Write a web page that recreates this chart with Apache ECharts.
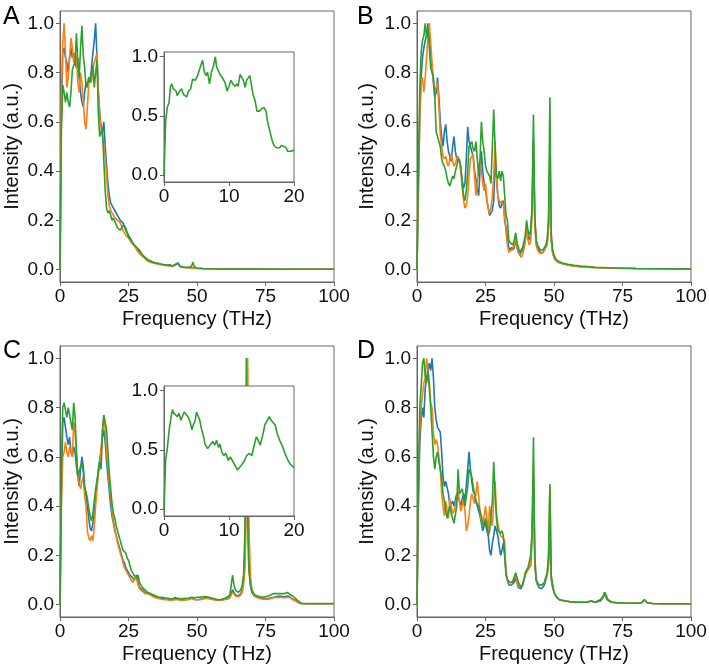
<!DOCTYPE html>
<html>
<head>
<meta charset="utf-8">
<script src="https://cdn.jsdelivr.net/npm/echarts@6/dist/echarts.min.js"></script>
<style>html,body{margin:0;padding:0;background:#fff}#chart{width:709px;height:668px}</style>
</head>
<body>
<div id="chart"></div>
<script>
// ---------------- DATA ----------------
const seriesNames = ['Blue', 'Orange', 'Green'];
const panelLabels = ['A', 'B', 'C', 'D'];
const xTicks = [0, 25, 50, 75, 100];
const yTicks = [0, 0.2, 0.4, 0.6, 0.8, 1.0];
const insetYTicks = [0, 0.5, 1.0];

// Panel A
const freqA = [0,0.5,1,1.5,2,2.5,3,3.5,4,4.5,
  5,5.5,6,6.5,7,7.5,8,8.5,9,9.5,
  10,10.5,11,11.5,12,12.5,13,13.5,14,14.5,
  15,15.5,16,16.5,17,17.5,18,18.5,19,19.5,
  20,21,22,23,24,25,26,27,28,29,
  30,31,32,33,34,35,36,37,38,39,
  40,41,42,43,44,45,46,47,48,48.5,
  49,50,52,55,60,70,80,90,100];
const blueA = [0,0.6,0.88,0.9,0.86,0.84,0.80,0.86,0.9,0.86,
  0.88,0.84,0.82,0.86,0.78,0.72,0.68,0.66,0.72,0.76,
  0.74,0.78,0.76,0.82,0.88,0.93,1.0,0.86,0.72,0.64,
  0.58,0.56,0.60,0.50,0.42,0.35,0.30,0.27,0.26,0.25,
  0.24,0.22,0.20,0.19,0.16,0.14,0.12,0.10,0.09,0.07,
  0.06,0.05,0.04,0.035,0.03,0.027,0.025,0.022,0.02,0.018,
  0.02,0.015,0.02,0.028,0.012,0.01,0.009,0.008,0.008,0.01,
  0.007,0.006,0.005,0.004,0.003,0.003,0.002,0.002,0.002];
const orangeA = [0,0.7,0.92,1.0,0.88,0.74,0.78,0.86,0.94,0.90,
  0.84,0.88,0.86,0.76,0.72,0.80,0.76,0.68,0.60,0.57,
  0.66,0.76,0.78,0.76,0.82,0.84,0.86,0.88,0.72,0.62,
  0.57,0.54,0.50,0.46,0.38,0.30,0.26,0.24,0.23,0.22,
  0.22,0.20,0.19,0.16,0.14,0.13,0.11,0.10,0.08,0.065,
  0.055,0.045,0.035,0.03,0.027,0.024,0.022,0.02,0.018,0.016,
  0.015,0.013,0.018,0.025,0.01,0.009,0.008,0.008,0.007,0.01,
  0.006,0.005,0.004,0.004,0.003,0.003,0.002,0.002,0.002];
const greenA = [0,0.57,0.75,0.72,0.68,0.72,0.68,0.66,0.72,0.81,
  0.83,0.84,0.96,0.84,0.78,0.90,0.99,0.87,0.82,0.74,
  0.75,0.78,0.76,0.80,0.83,0.74,0.80,0.85,0.63,0.54,
  0.56,0.57,0.44,0.32,0.25,0.23,0.24,0.24,0.20,0.21,
  0.21,0.17,0.16,0.18,0.17,0.13,0.12,0.10,0.09,0.08,
  0.06,0.05,0.04,0.035,0.03,0.027,0.025,0.022,0.02,0.018,
  0.018,0.015,0.02,0.025,0.012,0.01,0.01,0.01,0.014,0.03,
  0.012,0.007,0.005,0.004,0.003,0.003,0.002,0.002,0.002];

// Inset of panel A (green, 0-20 THz)
const insetFreqA = [0,0.26,0.5,0.77,1.0,1.2,1.4,1.85,2.05,2.4,
  2.7,3.0,3.5,3.7,4.1,4.4,4.8,5.1,5.4,5.8,
  5.95,6.2,6.5,6.7,7.0,7.3,7.6,7.9,8.1,8.4,
  8.6,9.0,9.4,9.7,10.0,10.3,10.6,10.9,11.2,11.4,
  11.7,11.9,12.2,12.5,12.7,13.0,13.2,13.5,13.7,14.0,
  14.3,14.7,15.0,15.4,15.7,15.9,16.2,16.6,16.9,17.3,
  17.8,18.1,18.4,18.8,19.0,19.3,19.6,20.0];
const insetGreenA = [0,0.46,0.57,0.61,0.75,0.77,0.73,0.71,0.67,0.71,
  0.73,0.68,0.66,0.70,0.73,0.81,0.80,0.83,0.82,0.95,
  0.97,0.87,0.84,0.87,0.77,0.87,0.92,1.0,0.91,0.88,
  0.85,0.82,0.78,0.71,0.75,0.80,0.77,0.75,0.77,0.75,
  0.85,0.84,0.80,0.74,0.80,0.80,0.84,0.84,0.68,0.63,
  0.54,0.54,0.56,0.57,0.54,0.46,0.39,0.30,0.25,0.23,
  0.23,0.25,0.24,0.23,0.20,0.21,0.20,0.21];

// Panel B
const freqB = [0,0.5,1,1.5,2,2.5,3,3.5,4,4.5,
  5,5.5,6,6.5,7,7.5,8,8.5,9,9.5,
  10,10.5,11,11.5,12,12.5,13,13.5,14,14.5,
  15,15.5,16,16.5,17,17.5,18,18.5,19,19.5,
  20,20.5,21,21.5,22,22.5,23,23.5,24,24.5,
  25,25.5,26,26.5,27,27.5,28,28.5,29,29.5,
  30,30.5,31,31.5,32,32.5,33,33.5,34,34.5,
  35,35.5,36,36.5,37,37.5,38,38.5,39,39.5,
  40,40.5,41,41.5,42,42.5,43,43.5,44,44.5,
  45,45.5,46,46.5,47,47.5,48,48.5,49,49.5,
  50,50.5,51,51.5,52,
  53,55,57.5,60,65,70,75,80,90,100];
const blueB = [0,0.35,0.62,0.78,0.86,0.90,0.93,0.95,1.0,0.96,
  0.88,0.82,0.76,0.70,0.72,0.78,0.70,0.60,0.54,0.50,
  0.56,0.59,0.52,0.48,0.46,0.44,0.50,0.54,0.48,0.45,
  0.44,0.45,0.40,0.36,0.33,0.35,0.45,0.58,0.52,0.50,
  0.48,0.46,0.40,0.37,0.33,0.30,0.40,0.48,0.40,0.35,
  0.33,0.28,0.25,0.22,0.22,0.24,0.28,0.45,0.38,0.30,
  0.26,0.25,0.27,0.28,0.20,0.17,0.13,0.09,0.08,0.09,
  0.08,0.09,0.12,0.09,0.07,0.06,0.06,0.08,0.10,0.12,
  0.17,0.14,0.12,0.14,0.25,0.52,0.20,0.11,0.09,0.08,
  0.07,0.07,0.07,0.08,0.09,0.11,0.18,0.45,0.12,0.07,
  0.05,0.04,0.035,0.03,0.028,
  0.025,0.02,0.015,0.012,0.009,0.007,0.006,0.005,0.004,0.003];
const orangeB = [0,0.3,0.6,0.76,0.78,0.72,0.78,0.86,0.94,1.0,
  0.92,0.84,0.76,0.72,0.74,0.76,0.66,0.55,0.50,0.46,
  0.45,0.46,0.43,0.42,0.45,0.47,0.44,0.42,0.43,0.45,
  0.46,0.44,0.40,0.33,0.28,0.25,0.26,0.30,0.38,0.45,
  0.46,0.47,0.38,0.30,0.35,0.40,0.45,0.40,0.35,0.32,
  0.35,0.28,0.25,0.23,0.25,0.30,0.38,0.52,0.36,0.30,
  0.28,0.27,0.28,0.26,0.22,0.15,0.10,0.07,0.07,0.08,
  0.08,0.10,0.13,0.09,0.07,0.06,0.05,0.06,0.08,0.11,
  0.17,0.12,0.10,0.12,0.22,0.50,0.18,0.10,0.08,0.07,
  0.07,0.065,0.07,0.08,0.09,0.10,0.17,0.49,0.12,0.07,
  0.05,0.04,0.035,0.03,0.027,
  0.024,0.018,0.014,0.011,0.008,0.007,0.006,0.005,0.004,0.003];
const greenB = [0,0.4,0.72,0.88,0.93,0.95,1.0,0.94,0.98,0.90,
  0.82,0.80,0.78,0.70,0.56,0.54,0.52,0.50,0.45,0.43,
  0.42,0.40,0.37,0.35,0.34,0.36,0.38,0.37,0.40,0.42,
  0.45,0.44,0.42,0.36,0.30,0.28,0.32,0.40,0.50,0.51,
  0.52,0.49,0.48,0.52,0.45,0.38,0.45,0.60,0.52,0.48,
  0.42,0.40,0.40,0.38,0.35,0.50,0.65,0.50,0.38,0.37,
  0.40,0.36,0.40,0.38,0.30,0.22,0.20,0.12,0.11,0.11,
  0.10,0.12,0.15,0.11,0.09,0.07,0.07,0.09,0.11,0.14,
  0.20,0.16,0.14,0.16,0.26,0.63,0.22,0.12,0.10,0.09,
  0.08,0.08,0.08,0.09,0.10,0.12,0.20,0.70,0.15,0.08,
  0.06,0.045,0.04,0.035,0.03,
  0.027,0.022,0.018,0.015,0.01,0.008,0.006,0.005,0.004,0.003];

// Panel C
const freqC = [0,0.5,1,1.5,2,2.5,3,3.5,4,4.5,
  5,5.5,6,6.5,7,7.5,8,8.5,9,9.5,
  10,10.5,11,11.5,12,12.5,13,13.5,14,14.5,
  15,15.5,16,16.5,17,17.5,18,18.5,19,19.5,
  20,20.5,21,21.5,22,22.5,23,23.5,24,24.5,
  25,25.5,26,26.5,27,27.5,28,28.5,29,29.5,
  30,
  31,32,33,34,35,36,37,38,39,40,
  41,42,43,44,45,46,47,48,49,50,
  51,52,53,54,55,56,57,58,59,60,
  61,62,62.5,63,63.5,64,65,66,66.5,67,
  67.5,67.75,68,68.25,68.5,68.75,69,69.5,70,71,
  72,74,76,78,80,82,83,84,85,86,
  87,88,90,95,100];
const blueC = [0,0.45,0.74,0.76,0.72,0.68,0.65,0.68,0.62,0.60,
  0.64,0.62,0.56,0.52,0.48,0.55,0.60,0.56,0.48,0.44,
  0.40,0.35,0.31,0.30,0.33,0.37,0.43,0.49,0.55,0.59,
  0.62,0.68,0.71,0.66,0.58,0.52,0.46,0.40,0.36,0.33,
  0.30,0.28,0.26,0.24,0.22,0.20,0.18,0.17,0.15,0.14,
  0.13,0.12,0.12,0.11,0.10,0.11,0.12,0.09,0.07,0.065,
  0.06,
  0.05,0.045,0.04,0.035,0.03,0.028,0.025,0.024,0.022,0.02,
  0.02,0.03,0.022,0.02,0.02,0.02,0.022,0.028,0.022,0.02,
  0.022,0.024,0.028,0.03,0.025,0.022,0.02,0.02,0.02,0.022,
  0.025,0.03,0.045,0.06,0.05,0.04,0.035,0.045,0.06,0.1,
  0.22,0.4,0.75,1.0,0.6,0.3,0.16,0.08,0.05,0.035,
  0.03,0.025,0.025,0.03,0.035,0.032,0.035,0.03,0.022,0.018,
  0.01,0.005,0.004,0.004,0.004];
const orangeC = [0,0.4,0.6,0.62,0.66,0.62,0.6,0.64,0.62,0.60,
  0.74,0.70,0.62,0.52,0.49,0.47,0.50,0.52,0.44,0.40,
  0.30,0.27,0.26,0.28,0.26,0.32,0.40,0.47,0.53,0.57,
  0.64,0.70,0.77,0.71,0.62,0.56,0.49,0.44,0.38,0.34,
  0.31,0.28,0.25,0.23,0.21,0.19,0.17,0.15,0.14,0.13,
  0.12,0.11,0.10,0.09,0.10,0.11,0.10,0.08,0.065,0.06,
  0.055,
  0.045,0.045,0.04,0.032,0.028,0.025,0.022,0.02,0.02,0.018,
  0.018,0.02,0.02,0.018,0.018,0.02,0.02,0.025,0.02,0.02,
  0.02,0.022,0.025,0.025,0.022,0.02,0.018,0.018,0.018,0.02,
  0.022,0.028,0.04,0.05,0.045,0.035,0.032,0.04,0.05,0.08,
  0.15,0.25,0.45,0.75,1.0,0.7,0.3,0.12,0.06,0.035,
  0.028,0.022,0.022,0.028,0.03,0.028,0.03,0.028,0.02,0.015,
  0.008,0.004,0.004,0.004,0.004];
const greenC = [0,0.51,0.80,0.82,0.79,0.76,0.80,0.80,0.74,0.71,
  0.82,0.76,0.62,0.52,0.54,0.56,0.57,0.54,0.47,0.46,
  0.43,0.39,0.36,0.34,0.37,0.42,0.47,0.47,0.54,0.58,
  0.55,0.71,0.77,0.77,0.71,0.62,0.53,0.47,0.41,0.37,
  0.35,0.32,0.30,0.28,0.26,0.24,0.22,0.22,0.21,0.19,
  0.18,0.16,0.14,0.13,0.12,0.12,0.11,0.12,0.09,0.08,
  0.07,
  0.06,0.05,0.045,0.04,0.035,0.03,0.03,0.028,0.027,0.025,
  0.024,0.025,0.026,0.024,0.025,0.026,0.027,0.03,0.028,0.03,
  0.03,0.032,0.033,0.03,0.028,0.025,0.022,0.02,0.022,0.025,
  0.03,0.04,0.08,0.12,0.08,0.06,0.05,0.06,0.08,0.12,
  0.3,0.6,1.0,0.7,0.35,0.2,0.13,0.08,0.06,0.04,
  0.035,0.03,0.035,0.045,0.045,0.045,0.05,0.04,0.035,0.025,
  0.015,0.006,0.005,0.005,0.005];

// Inset of panel C (green, 0-20 THz)
const insetFreqC = [0,0.25,0.5,0.8,1.1,1.3,1.5,1.8,2.05,2.3,
  2.6,2.8,3.1,3.4,3.7,4.0,4.3,4.5,4.8,5.0,
  5.3,5.5,5.8,6.1,6.3,6.7,7.1,7.5,7.8,8.1,
  8.4,8.6,8.9,9.2,9.5,9.9,10.2,10.6,10.9,11.3,
  11.6,11.9,12.4,12.7,13.1,13.5,13.8,14.2,14.4,14.8,
  15.0,15.3,15.5,15.9,16.2,16.5,16.7,17.1,17.4,17.8,
  18.3,18.6,19.0,19.4,19.7,20.0];
const insetGreenC = [0,0.41,0.51,0.67,0.78,0.84,0.81,0.82,0.78,0.81,
  0.75,0.78,0.82,0.81,0.78,0.74,0.67,0.71,0.75,0.82,
  0.81,0.75,0.67,0.61,0.55,0.51,0.54,0.57,0.54,0.58,
  0.52,0.55,0.48,0.45,0.47,0.41,0.44,0.40,0.37,0.33,
  0.34,0.37,0.41,0.45,0.47,0.45,0.52,0.61,0.59,0.54,
  0.55,0.65,0.71,0.75,0.78,0.75,0.76,0.71,0.64,0.58,
  0.52,0.47,0.42,0.38,0.38,0.35];

// Panel D
const freqD = [0,0.5,1,1.5,2,2.5,3,3.5,4,4.5,
  5,5.5,6,6.5,7,7.5,8,8.5,9,9.5,
  10,10.5,11,11.5,12,12.5,13,13.5,14,14.5,
  15,15.5,16,16.5,17,17.5,18,18.5,19,19.5,
  20,20.5,21,21.5,22,22.5,23,23.5,24,24.5,
  25,25.5,26,26.5,27,27.5,28,28.5,29,29.5,
  30,30.5,31,31.5,32,32.5,33,33.5,34,34.5,
  35,35.5,36,36.5,37,37.5,38,38.5,39,39.5,
  40,40.5,41,41.5,42,42.5,43,43.5,44,44.5,
  45,45.5,46,46.5,47,47.5,48,48.5,49,49.5,
  50,50.5,51,51.5,52,
  54,56,58,60,62,63.5,65,67,68,68.5,
  69,69.5,71,73,76,80,82,83,84,86,
  90,95,100];
const blueD = [0,0.4,0.65,0.75,0.80,0.76,0.88,0.92,0.95,0.98,
  0.95,1.0,0.92,0.80,0.75,0.72,0.72,0.70,0.62,0.52,
  0.48,0.50,0.50,0.45,0.40,0.40,0.42,0.40,0.40,0.45,
  0.45,0.42,0.40,0.43,0.45,0.42,0.42,0.55,0.62,0.55,
  0.50,0.46,0.45,0.42,0.40,0.38,0.36,0.33,0.30,0.32,
  0.33,0.30,0.28,0.22,0.20,0.25,0.28,0.32,0.30,0.28,
  0.24,0.20,0.22,0.25,0.20,0.12,0.10,0.08,0.08,0.08,
  0.08,0.09,0.11,0.09,0.07,0.065,0.065,0.08,0.10,0.12,
  0.14,0.14,0.15,0.16,0.28,0.52,0.16,0.10,0.08,0.07,
  0.065,0.065,0.07,0.08,0.10,0.12,0.16,0.32,0.10,0.07,
  0.05,0.04,0.03,0.025,0.02,
  0.015,0.012,0.01,0.01,0.01,0.015,0.01,0.015,0.03,0.045,
  0.03,0.02,0.01,0.008,0.007,0.006,0.008,0.02,0.008,0.005,
  0.004,0.004,0.004];
const orangeD = [0,0.45,0.7,0.8,0.85,0.9,0.92,1.0,0.95,0.90,
  0.82,0.80,0.70,0.65,0.67,0.65,0.60,0.55,0.45,0.40,
  0.36,0.42,0.38,0.35,0.43,0.40,0.37,0.38,0.40,0.43,
  0.46,0.42,0.38,0.40,0.43,0.38,0.30,0.32,0.36,0.42,
  0.45,0.43,0.41,0.45,0.50,0.44,0.38,0.34,0.32,0.36,
  0.40,0.35,0.30,0.40,0.35,0.32,0.42,0.50,0.38,0.33,
  0.30,0.28,0.28,0.27,0.26,0.12,0.10,0.09,0.09,0.09,
  0.10,0.11,0.12,0.09,0.08,0.07,0.07,0.08,0.10,0.12,
  0.13,0.14,0.15,0.17,0.28,0.55,0.17,0.10,0.08,0.08,
  0.08,0.08,0.08,0.09,0.11,0.12,0.18,0.48,0.11,0.08,
  0.05,0.04,0.03,0.025,0.02,
  0.015,0.012,0.01,0.01,0.01,0.015,0.01,0.02,0.035,0.05,
  0.045,0.025,0.01,0.008,0.007,0.006,0.008,0.02,0.008,0.005,
  0.004,0.004,0.004];
const greenD = [0,0.5,0.8,0.88,0.98,1.0,0.93,0.90,0.95,0.88,
  0.80,0.70,0.60,0.55,0.60,0.62,0.58,0.55,0.52,0.45,
  0.42,0.38,0.35,0.38,0.40,0.37,0.35,0.33,0.33,0.40,
  0.55,0.45,0.46,0.47,0.44,0.40,0.44,0.48,0.55,0.55,
  0.52,0.48,0.45,0.42,0.42,0.40,0.38,0.36,0.33,0.32,
  0.35,0.32,0.28,0.30,0.30,0.42,0.58,0.45,0.35,0.30,
  0.30,0.29,0.30,0.28,0.28,0.13,0.10,0.10,0.09,0.09,
  0.09,0.11,0.13,0.11,0.09,0.08,0.07,0.08,0.10,0.13,
  0.14,0.15,0.15,0.20,0.30,0.68,0.20,0.10,0.09,0.08,
  0.08,0.08,0.08,0.09,0.11,0.13,0.20,0.49,0.12,0.08,
  0.05,0.04,0.03,0.025,0.02,
  0.015,0.012,0.01,0.01,0.01,0.015,0.01,0.02,0.035,0.05,
  0.04,0.02,0.01,0.008,0.007,0.006,0.008,0.02,0.008,0.005,
  0.004,0.004,0.004];

// ---------------- CHART ----------------
const COLORS = ['#1f77b4', '#ff7f0e', '#2ca02c'];
const FONT = 'Liberation Sans, Arial, Helvetica, sans-serif';
const FRAME = '#666';
const TXT = '#111';

const panels = [
  { freq: freqA, vals: [blueA, orangeA, greenA] },
  { freq: freqB, vals: [blueB, orangeB, greenB] },
  { freq: freqC, vals: [blueC, orangeC, greenC] },
  { freq: freqD, vals: [blueD, orangeD, greenD] }
];
const insets = [
  { freq: insetFreqA, vals: insetGreenA },
  { freq: insetFreqC, vals: insetGreenC }
];

const gridPos = [
  { left: 60, top: 11 }, { left: 417, top: 11 },
  { left: 60, top: 346 }, { left: 417, top: 346 }
];
const insetPos = [{ left: 164, top: 52 }, { left: 164, top: 386 }];

const pairs = (f, v) => f.map((x, i) => [x, v[i]]);

const grid = [], xAxis = [], yAxis = [], series = [];

gridPos.forEach((p, i) => {
  grid.push({ left: p.left, top: p.top, width: 274, height: 271, show: true,
    borderColor: FRAME, borderWidth: 1, backgroundColor: 'transparent', outerBoundsMode: 'none' });
  xAxis.push({ type: 'value', gridIndex: i, min: 0, max: 100, interval: 25,
    name: 'Frequency (THz)', nameLocation: 'middle', nameGap: 27,
    nameTextStyle: { fontSize: 20, fontFamily: FONT, color: TXT },
    axisLine: { show: true, onZero: false, lineStyle: { color: FRAME, width: 1 } },
    axisTick: { show: true, inside: false, length: 4, lineStyle: { color: FRAME } },
    axisLabel: { fontSize: 19, fontFamily: FONT, color: TXT, margin: 5, showMinLabel: true, showMaxLabel: true },
    splitLine: { show: false } });
  yAxis.push({ type: 'value', gridIndex: i, min: -0.05, max: 1.05,
    name: 'Intensity (a.u.)', nameLocation: 'middle', nameGap: i % 2 ? 40 : 38,
    nameTextStyle: { fontSize: 20, fontFamily: FONT, color: TXT },
    axisLine: { show: true, onZero: false, lineStyle: { color: FRAME, width: 1 } },
    axisTick: { show: true, inside: false, length: 4, lineStyle: { color: FRAME }, customValues: yTicks },
    axisLabel: { fontSize: 19, fontFamily: FONT, color: TXT, margin: 6, customValues: yTicks,
      formatter: v => v.toFixed(1) },
    splitLine: { show: false } });
  panels[i].vals.forEach((v, k) => {
    series.push({ type: 'line', name: seriesNames[k], xAxisIndex: i, yAxisIndex: i,
      data: pairs(panels[i].freq, v), showSymbol: false, symbol: 'none',
      lineStyle: { color: COLORS[k], width: 1.6 }, itemStyle: { color: COLORS[k] },
      z: 2 + k, animation: false });
  });
});

insetPos.forEach((p, j) => {
  const gi = 4 + j;
  grid.push({ left: p.left, top: p.top, width: 130, height: 130, show: true, zlevel: 1,
    borderColor: FRAME, borderWidth: 1, backgroundColor: '#fff', outerBoundsMode: 'none' });
  xAxis.push({ type: 'value', gridIndex: gi, min: 0, max: 20, interval: 10, zlevel: 1,
    axisLine: { show: true, onZero: false, lineStyle: { color: FRAME, width: 1 } },
    axisTick: { show: true, inside: false, length: 4, lineStyle: { color: FRAME } },
    axisLabel: { fontSize: 19, fontFamily: FONT, color: TXT, margin: 5, showMinLabel: true, showMaxLabel: true },
    splitLine: { show: false } });
  yAxis.push({ type: 'value', gridIndex: gi, min: -0.06, max: 1.04, zlevel: 1,
    axisLine: { show: true, onZero: false, lineStyle: { color: FRAME, width: 1 } },
    axisTick: { show: true, inside: false, length: 4, lineStyle: { color: FRAME }, customValues: insetYTicks },
    axisLabel: { fontSize: 19, fontFamily: FONT, color: TXT, margin: 6, customValues: insetYTicks,
      formatter: v => v.toFixed(1) },
    splitLine: { show: false } });
  series.push({ type: 'line', name: 'Green inset', xAxisIndex: gi, yAxisIndex: gi, zlevel: 1,
    data: pairs(insets[j].freq, insets[j].vals), showSymbol: false, symbol: 'none',
    lineStyle: { color: COLORS[2], width: 1.6 }, z: 5, animation: false });
});

const labelPos = [[3, 5], [357, 5], [3, 339], [357, 339]];
const graphic = panelLabels.map((t, i) => ({
  type: 'text', left: labelPos[i][0], top: labelPos[i][1],
  style: { text: t, fontSize: 25, fontFamily: FONT, fill: '#000' }
}));

const chart = echarts.init(document.getElementById('chart'), null, { renderer: 'canvas' });
chart.setOption({ animation: false, backgroundColor: '#fff', grid, xAxis, yAxis, series, graphic });
</script>
</body>
</html>
